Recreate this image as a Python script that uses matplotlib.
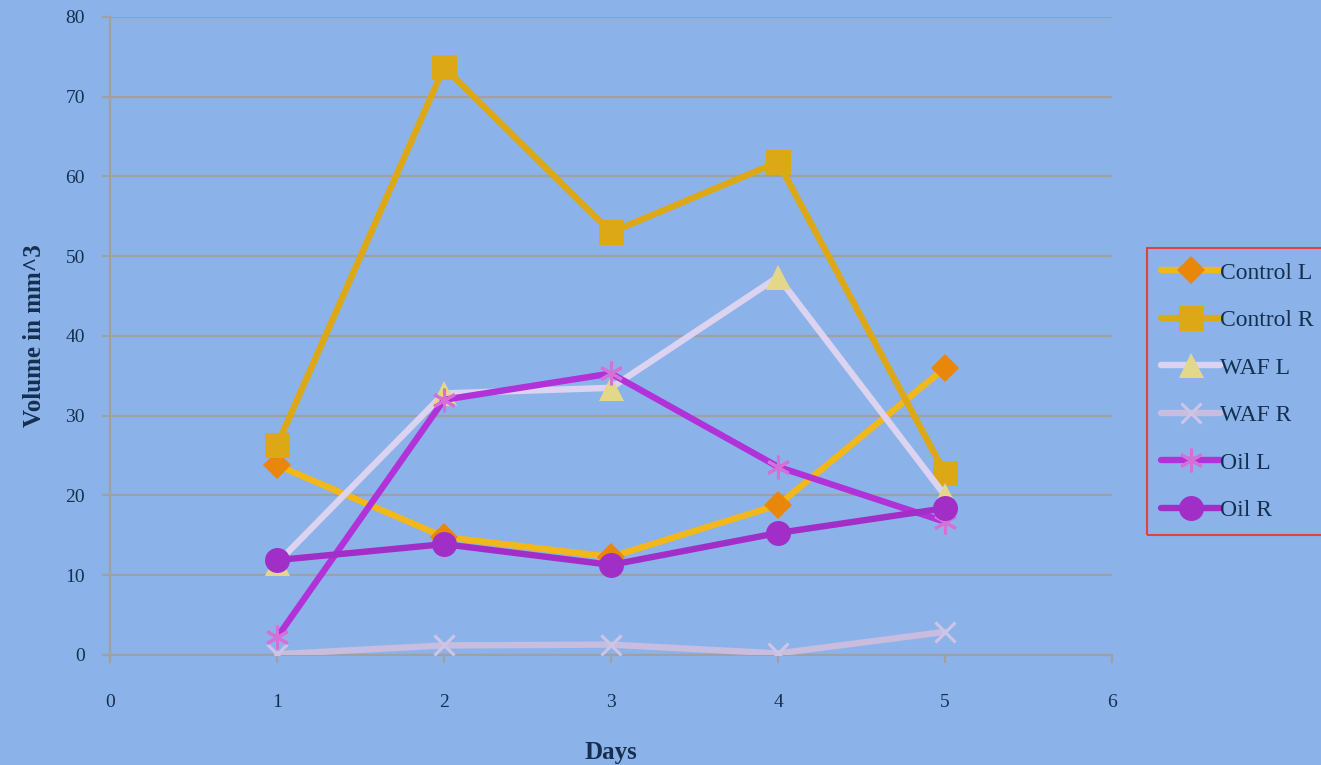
import matplotlib
matplotlib.use("Agg")
import matplotlib.pyplot as plt

days = [1, 2, 3, 4, 5]
control_l = [23.8, 14.8, 12.3, 18.8, 36.0]
control_r = [26.3, 73.7, 53.0, 61.8, 22.8]
waf_l = [11.5, 32.8, 33.5, 47.4, 20.0]
waf_r = [0.1, 1.2, 1.3, 0.2, 2.9]
oil_l = [2.2, 32.0, 35.3, 23.6, 16.7]
oil_r = [11.9, 13.9, 11.3, 15.3, 18.4]

series_names = ["Control L", "Control R", "WAF L", "WAF R", "Oil L", "Oil R"]
x_ticks = [0, 1, 2, 3, 4, 5, 6]
y_ticks = [0, 10, 20, 30, 40, 50, 60, 70, 80]

bg = "#8bb3ea"
text_col = "#15304f"
grid_col = "#a0a0a0"

plt.rcParams['font.family'] = ['Liberation Serif', 'DejaVu Serif']

fig = plt.figure(figsize=[13.21, 7.65], dpi=100)
fig.patch.set_facecolor(bg)
ax = fig.add_axes([0.0833, 0.1438, 0.7585, 0.834])
ax.set_facecolor(bg)

# line colour, marker, marker face, marker size
styles = [
    ("#f2b71a", "D", "#e8870a", 14),
    ("#dda815", "s", "#dda815", 18),
    ("#dcd3f0", "^", "#e3d88a", 18),
    ("#c8bcdf", "x", "#d0c4e6", 15),
    ("#b032d8", (6, 2, 0), "#d570d8", 17),
    ("#a22ec8", "o", "#a22ec8", 18),
]
data = [control_l, control_r, waf_l, waf_r, oil_l, oil_r]

for i, (vals, name) in enumerate(zip(data, series_names)):
    col, mk, mfc, ms = styles[i]
    if mk == "x" or isinstance(mk, tuple):
        # line-type markers: colour comes from the edge
        ax.plot(days, vals, color=col, linewidth=4.6, marker=mk, markersize=ms,
                markeredgecolor=mfc, markeredgewidth=2.2, label=name, zorder=3 + i,
                solid_capstyle='round')
    else:
        ax.plot(days, vals, color=col, linewidth=4.6, marker=mk, markersize=ms,
                markerfacecolor=mfc, markeredgewidth=0, label=name, zorder=3 + i,
                solid_capstyle='round')

ax.set_xlim(0, 6)
ax.set_ylim(0, 80)
ax.set_xticks(x_ticks)
ax.set_yticks(y_ticks)
ax.yaxis.grid(True, color=grid_col, linewidth=1.6)
ax.set_axisbelow(True)

for s in ["top", "right"]:
    ax.spines[s].set_visible(False)
for s in ["left", "bottom"]:
    ax.spines[s].set_color(grid_col)
    ax.spines[s].set_linewidth(1.6)

ax.tick_params(axis='x', colors=grid_col, length=6, width=1.6, pad=22,
               labelcolor=text_col, labelsize=14)
ax.tick_params(axis='y', colors=grid_col, length=6, width=1.6, pad=12,
               labelcolor=text_col, labelsize=14)

ax.set_xlabel("Days", fontsize=18, fontweight='bold', color=text_col, labelpad=22)
ax.set_ylabel("Volume in mm^3", fontsize=18, fontweight='bold', color=text_col, labelpad=14)

leg = fig.legend(loc="upper left", bbox_to_anchor=(1147 / 1321, 1 - 248 / 765),
                 frameon=True, fontsize=17, handlelength=2.5, handletextpad=0.0,
                 labelspacing=1.1, borderpad=0.6, borderaxespad=0, fancybox=False,
                 labelcolor=text_col)
leg.get_frame().set_facecolor("none")
leg.get_frame().set_edgecolor("#ee2a1a")
leg.get_frame().set_linewidth(1.5)

fig.savefig("out.png", dpi=100, facecolor=bg)
